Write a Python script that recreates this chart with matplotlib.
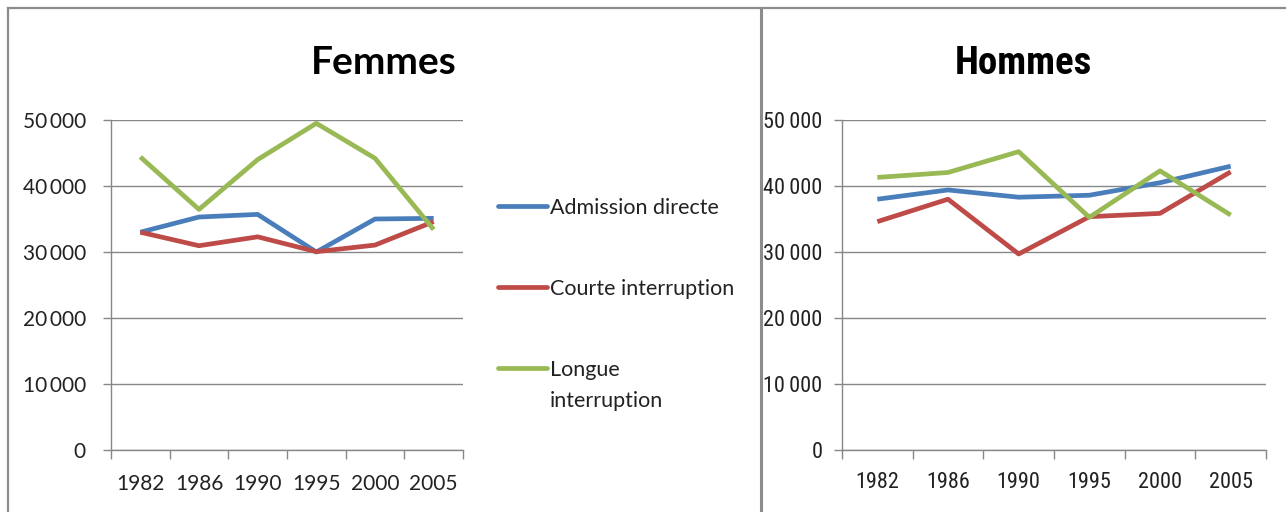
import matplotlib
matplotlib.use("Agg")
import matplotlib.pyplot as plt
from matplotlib.lines import Line2D
from matplotlib import font_manager
from matplotlib.ticker import FuncFormatter, MultipleLocator
import numpy as np

years = ["1982", "1986", "1990", "1995", "2000", "2005"]
series_names = ["Admission directe", "Courte interruption", "Longue\ninterruption"]
colors = ["#4A7EBB", "#BE4B48", "#98B954"]

# Femmes
femmes_admission = [33000, 35300, 35700, 30000, 35000, 35100]
femmes_courte = [33000, 30950, 32300, 30050, 31050, 34600]
femmes_longue = [44400, 36450, 44000, 49500, 44200, 33400]

# Hommes
hommes_admission = [38000, 39400, 38300, 38600, 40500, 43000]
hommes_courte = [34600, 38000, 29700, 35350, 35850, 42150]
hommes_longue = [41300, 42050, 45200, 35250, 42300, 35600]

W, H = 1286, 512
DPI = 100
GRID = "#878787"
FRAME = "#8c8c8c"
LW = 3.4

available = {f.name for f in font_manager.fontManager.ttflist}
main_font = "Lato" if "Lato" in available else "DejaVu Sans"
narrow_font = main_font
for cand in ["Liberation Sans Narrow", "Roboto Condensed", "Open Sans Condensed"]:
    if cand in available:
        narrow_font = cand
        break

plt.rcParams["font.family"] = [main_font, "DejaVu Sans"]

fig = plt.figure(figsize=(W / DPI, H / DPI), dpi=DPI)


def px_box(x0, x1, y_top, y_bot):
    return [x0 / W, 1 - y_bot / H, (x1 - x0) / W, (y_bot - y_top) / H]


def thousands(v, pos):
    v = int(round(v))
    if v == 0:
        return "0"
    return f"{v // 1000}\u2009{v % 1000:03d}"


def style_axes(ax, font, size, ypad, xpad):
    x = np.arange(len(years))
    ax.set_xlim(-0.5, len(years) - 0.5)
    ax.set_ylim(0, 50000)
    ax.yaxis.set_major_locator(MultipleLocator(10000))
    ax.yaxis.set_major_formatter(FuncFormatter(thousands))
    ax.set_xticks(x)
    ax.set_xticklabels(years)
    ax.set_xticks(np.arange(-0.5, len(years)), minor=True)
    ax.grid(axis="y", color=GRID, linewidth=1.0)
    ax.set_axisbelow(True)
    for side in ["top", "right"]:
        ax.spines[side].set_visible(False)
    for side in ["left", "bottom"]:
        ax.spines[side].set_color(GRID)
        ax.spines[side].set_linewidth(1.0)
    ax.tick_params(axis="y", length=6, color=GRID, width=1.0, pad=ypad)
    ax.tick_params(axis="x", which="major", length=0, pad=xpad)
    ax.tick_params(axis="x", which="minor", length=6.5, color=GRID, width=1.0)
    for lab in ax.get_xticklabels() + ax.get_yticklabels():
        lab.set_fontfamily([font, "DejaVu Sans"])
        lab.set_fontsize(size)
        lab.set_color("#222222")


# left chart: Femmes
ax1 = fig.add_axes(px_box(111, 463, 120, 450))
for vals, c in zip([femmes_admission, femmes_courte, femmes_longue], colors):
    ax1.plot(range(len(years)), vals, color=c, linewidth=LW, solid_capstyle="butt")
style_axes(ax1, main_font, 15, ypad=12, xpad=17)
fig.text(457 / W, 1 - 74 / H, "Femmes", ha="right", va="baseline",
         fontsize=28, fontweight="bold", color="black")

# right chart: Hommes
ax2 = fig.add_axes(px_box(842, 1266, 120, 450))
for vals, c in zip([hommes_admission, hommes_courte, hommes_longue], colors):
    ax2.plot(range(len(years)), vals, color=c, linewidth=LW, solid_capstyle="butt")
style_axes(ax2, narrow_font, 16, ypad=8, xpad=16)
fig.text(1023 / W, 1 - 74 / H, "Hommes", ha="center", va="baseline",
         fontsize=28, fontweight="bold", color="black",
         family=[narrow_font, "DejaVu Sans"])

# legend between the two charts
legend_rows = [206, 287, 368]
for name, c, yy in zip(series_names, colors, legend_rows):
    fig.add_artist(Line2D([498 / W, 547 / W], [1 - yy / H, 1 - yy / H],
                          color=c, linewidth=LW, solid_capstyle="round"))
    for i, part in enumerate(name.split("\n")):
        fig.text(550 / W, 1 - (yy + 8 + 31 * i) / H, part, ha="left",
                 va="baseline", fontsize=15.5, color="#222222")

# chart frames
fig.add_artist(Line2D([8 / W, 8 / W], [0, 1 - 8 / H], color=FRAME, linewidth=1.6))
fig.add_artist(Line2D([8 / W, 1], [1 - 8 / H, 1 - 8 / H], color=FRAME, linewidth=1.6))
fig.add_artist(Line2D([761 / W, 761 / W], [0, 1 - 8 / H], color=FRAME, linewidth=2.2))

fig.savefig("out.png", dpi=DPI)
